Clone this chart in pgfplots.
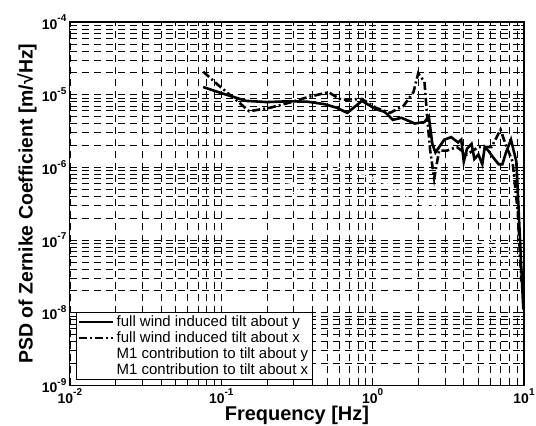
\documentclass[border=0pt]{standalone}
\usepackage{pgfplots}
\pgfplotsset{compat=1.18}
\usepackage{fontspec}
\setmainfont{Liberation Sans}
\begin{document}
\begin{tikzpicture}
\begin{axis}[
  scale only axis, width=455pt, height=364pt,
  xmode=log, ymode=log, log basis x=10, log basis y=10,
  xmin=1e-2, xmax=10, ymin=1e-9, ymax=1e-4,
  axis line style={line width=1.2pt},
  grid=both,
  major grid style={black, line width=0.6pt, dash pattern=on 7pt off 5pt},
  minor grid style={black, line width=0.6pt, dash pattern=on 7pt off 5pt},
  tick align=inside, major tick length=5pt, minor tick length=3pt,
  tick style={black, line width=0.6pt},
  xticklabel={\fontsize{14}{14}\selectfont\bfseries 10\raisebox{1.0ex}{\fontsize{10}{10}\selectfont\bfseries\pgfmathparse{int(round(\tick))}\pgfmathresult}},
  yticklabel={\fontsize{14}{14}\selectfont\bfseries 10\raisebox{1.0ex}{\fontsize{10}{10}\selectfont\bfseries\pgfmathparse{int(round(\tick))}\pgfmathresult}},
  xlabel={\fontsize{20}{20}\selectfont\bfseries Frequency [Hz]},
  ylabel={\fontsize{19.5}{19.5}\selectfont\bfseries PSD of Zernike Coefficient [m/√Hz]},
  xlabel style={at={([yshift=-30pt]axis description cs:0.5,0)}, anchor=center},
  ylabel style={at={([xshift=-43pt]axis description cs:0,0.5)}, anchor=center, rotate=0},
  legend style={at={(0.013,0.014)}, anchor=south west, draw=black, line width=0.8pt,
    font=\fontsize{15}{15}\selectfont, row sep=-0.5pt, inner sep=2pt,
    legend cell align=left},
  legend image code/.code={\draw[#1] (0pt,0pt) -- (34pt,0pt);},
]
\addplot[black, line width=2.6pt] coordinates {
(0.076,1.27e-5) (0.1,1.05e-5) (0.146,8.2e-6) (0.2,7.9e-6) (0.28,8.1e-6) (0.37,8e-6)
(0.48,7.4e-6) (0.58,6.6e-6) (0.68,5.6e-6) (0.85,8.2e-6) (1.05,6.3e-6) (1.2,5.8e-6)
(1.36,4.5e-6) (1.55,4.8e-6) (1.9,4.0e-6) (2.2,4.2e-6) (2.35,5e-6) (2.48,2.1e-6)
(2.6,1.6e-6) (2.8,2.0e-6) (2.97,2.4e-6) (3.3,2.6e-6) (3.67,2.2e-6) (3.85,2.4e-6)
(4.0,1.2e-6) (4.2,1.8e-6) (4.5,2.1e-6) (4.7,1.3e-6) (5.0,1.5e-6) (5.3,1.1e-6)
(5.5,1.9e-6) (5.8,1.7e-6) (6.2,1.4e-6) (6.8,1.1e-6) (7.2,1.1e-6) (7.6,1.6e-6)
(8.2,2.4e-6) (8.9,1.2e-6) (9.3,1.7e-7) (9.6,4e-8) (9.9,1.1e-8)
};
\addlegendentry{full wind induced tilt about y}
\addplot[black, line width=2.6pt, dash pattern=on 8pt off 3pt on 2pt off 3pt] coordinates {
(0.076,2.07e-5) (0.096,1.34e-5) (0.131,7.8e-6) (0.153,5.9e-6) (0.21,6.6e-6) (0.285,7.8e-6)
(0.37,9.2e-6) (0.51,1.08e-5) (0.62,8.5e-6) (0.85,8.7e-6) (1.05,6.6e-6) (1.3,5.6e-6)
(1.6,7e-6) (1.86,1.08e-5) (2.0,1.96e-5) (2.2,1.5e-5) (2.3,4.5e-6) (2.4,1.7e-6)
(2.55,7e-7) (2.75,1.7e-6) (3.1,1.7e-6) (3.6,1.9e-6) (4.2,1.5e-6) (5.0,1.9e-6)
(6.1,1.9e-6) (7.0,3.3e-6) (7.6,2e-6) (8.4,1.2e-6) (9.1,2.4e-7) (9.6,2.7e-8)
};
\addlegendentry{full wind induced tilt about x}
\addplot[white, line width=1.2pt] coordinates {
(0.15,5e-7) (0.3,6e-7) (0.5,9e-7) (0.9,8e-7) (1.5,5e-7) (2.5,3e-7) (4,2e-7) (6,1e-7) (9,6e-8)
};
\addlegendentry{M1 contribution to tilt about y}
\addplot[white, line width=1.2pt] coordinates {
(0.15,4e-7) (0.3,4.5e-7) (0.6,1e-6) (1.2,6e-7) (2.5,2.5e-7) (4,1.2e-7) (6,8e-8) (8,4e-8)
};
\addlegendentry{M1 contribution to tilt about x}
\end{axis}
\pgfresetboundingbox
\path ([shift={(-70pt,-40pt)}]current axis.south west) rectangle ([shift={(12pt,22pt)}]current axis.north east);
\end{tikzpicture}
\end{document}
